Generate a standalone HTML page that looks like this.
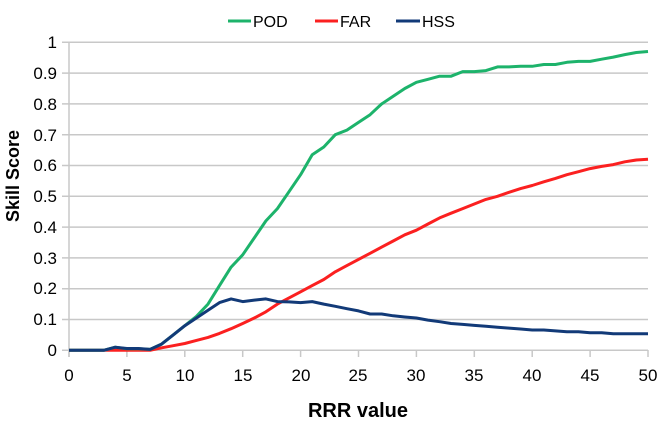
<!DOCTYPE html>
<html><head><meta charset="utf-8"><style>
html,body{margin:0;padding:0;background:#fff;}
svg{display:block;font-family:"Liberation Sans",sans-serif;}
</style></head><body>
<svg id="c" width="664" height="424" viewBox="0 0 664 424" xmlns="http://www.w3.org/2000/svg">
<g id="grid" stroke="#c8c8c8" stroke-width="1.5"></g>
<g id="ylab" font-size="17" fill="#000" text-anchor="end">
<text x="57" y="48">1</text><text x="57" y="79">0.9</text><text x="57" y="110">0.8</text><text x="57" y="141">0.7</text><text x="57" y="171">0.6</text><text x="57" y="202">0.5</text><text x="57" y="233">0.4</text><text x="57" y="264">0.3</text><text x="57" y="294">0.2</text><text x="57" y="325">0.1</text><text x="57" y="356">0</text>
</g>
<g font-size="17" fill="#000" text-anchor="middle">
<text x="69" y="381">0</text><text x="127" y="381">5</text><text x="185" y="381">10</text><text x="243" y="381">15</text><text x="301" y="381">20</text><text x="358" y="381">25</text><text x="416" y="381">30</text><text x="474" y="381">35</text><text x="532" y="381">40</text><text x="590" y="381">45</text><text x="648" y="381">50</text>
</g>
<text x="358" y="417" font-size="20" font-weight="bold" text-anchor="middle">RRR value</text>
<text transform="translate(19,176) rotate(-90)" font-size="18" font-weight="bold" text-anchor="middle">Skill Score</text>
<g font-size="16">
<line x1="228" y1="21" x2="251" y2="21" stroke="#1db36b" stroke-width="3"/><text x="253" y="27">POD</text>
<line x1="315" y1="21" x2="338" y2="21" stroke="#fb2020" stroke-width="3"/><text x="340" y="27">FAR</text>
<line x1="396" y1="21" x2="420" y2="21" stroke="#123a78" stroke-width="3"/><text x="422" y="27">HSS</text>
</g>
<g id="lines" fill="none" stroke-width="3" stroke-linejoin="round"></g>
</svg>
<script>
var X=function(v){return 69+v*11.58;},Y=function(v){return 350.3-v*308;};
var g=document.getElementById('grid'),s='';
for(var i=1;i<=10;i++){var y=Y(i/10);s+='<line x1="62" y1="'+y+'" x2="648" y2="'+y+'"/>';}
s+='<line x1="62" y1="350.3" x2="648" y2="350.3"/><line x1="69" y1="42" x2="69" y2="357"/>';
for(var i=0;i<=50;i+=5)s+='<line x1="'+X(i)+'" y1="350" x2="'+X(i)+'" y2="357"/>';
g.innerHTML=s;
var POD=[0,0,0,0,0.01,0.005,0.005,0.003,0.02,0.05,0.08,0.11,0.15,0.21,0.27,0.31,0.365,0.42,0.46,0.515,0.57,0.635,0.66,0.70,0.715,0.74,0.765,0.80,0.825,0.85,0.87,0.88,0.89,0.89,0.905,0.905,0.908,0.92,0.92,0.922,0.922,0.928,0.928,0.935,0.938,0.938,0.945,0.952,0.96,0.967,0.97];
var FAR=[0,0,0,0,0,0,0,0,0.008,0.015,0.022,0.032,0.042,0.055,0.07,0.087,0.105,0.125,0.15,0.17,0.19,0.21,0.23,0.255,0.275,0.295,0.315,0.335,0.355,0.375,0.39,0.41,0.43,0.445,0.46,0.475,0.49,0.5,0.513,0.525,0.535,0.547,0.558,0.57,0.58,0.59,0.597,0.603,0.612,0.618,0.62];
var HSS=[0,0,0,0,0.01,0.006,0.006,0.003,0.02,0.05,0.08,0.105,0.13,0.155,0.167,0.158,0.163,0.167,0.158,0.157,0.155,0.158,0.15,0.143,0.135,0.128,0.118,0.118,0.112,0.108,0.105,0.098,0.093,0.087,0.084,0.081,0.078,0.075,0.072,0.069,0.066,0.066,0.063,0.06,0.06,0.057,0.057,0.054,0.054,0.054,0.054];
function p(d,c){var a=d.map(function(v,i){return X(i).toFixed(1)+','+Y(v).toFixed(1);}).join(' ');return '<polyline stroke="'+c+'" points="'+a+'"/>';}
document.getElementById('lines').innerHTML=p(FAR,'#fb2020')+p(POD,'#1db36b')+p(HSS,'#123a78');
</script>
</body></html>
